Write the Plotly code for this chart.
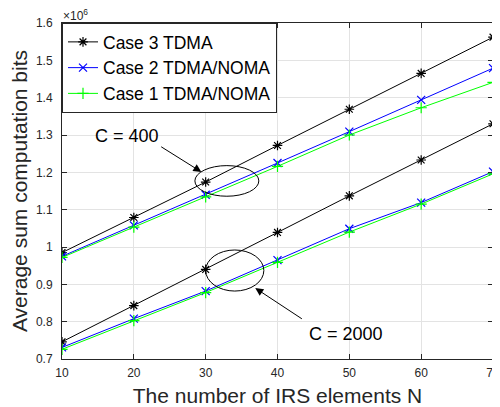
import plotly.graph_objects as go

N = [10, 20, 30, 40, 50, 60, 70]

# C = 400 (units of 1e6 bits)
case3_c400 = [0.985, 1.079, 1.174, 1.272, 1.369, 1.465, 1.562]
case2_c400 = [0.975, 1.058, 1.140, 1.225, 1.309, 1.394, 1.479]
case1_c400 = [0.972, 1.053, 1.134, 1.216, 1.300, 1.373, 1.441]

# C = 2000
case3_c2000 = [0.746, 0.843, 0.940, 1.039, 1.137, 1.233, 1.330]
case2_c2000 = [0.731, 0.808, 0.882, 0.965, 1.049, 1.119, 1.202]
case1_c2000 = [0.726, 0.803, 0.878, 0.959, 1.040, 1.115, 1.196]

series_names = ["Case 3 TDMA", "Case 2 TDMA/NOMA", "Case 1 TDMA/NOMA"]
y_ticks = [0.7, 0.8, 0.9, 1.0, 1.1, 1.2, 1.3, 1.4, 1.5, 1.6]
x_ticks = [10, 20, 30, 40, 50, 60, 70]

styles = [
    ("#000000", "asterisk-open"),
    ("#0000FF", "x-thin-open"),
    ("#00FF00", "cross-thin-open"),
]

fig = go.Figure()
groups = [
    (case3_c400, case3_c2000),
    (case2_c400, case2_c2000),
    (case1_c400, case1_c2000),
]
for (color, sym), name, (a, b) in zip(styles, series_names, groups):
    for k, ys in enumerate((a, b)):
        fig.add_trace(go.Scatter(
            x=N, y=ys, mode="lines+markers", name=name,
            legendgroup=name, showlegend=(k == 0),
            line=dict(color=color, width=1),
            marker=dict(symbol=sym, size=8, color=color,
                        line=dict(color=color, width=1.2)),
        ))

font_family = "Liberation Sans, Arial, sans-serif"
axis_color = "#262626"

# page body has an 8px default margin, so the figure is 8px smaller
fig.update_layout(
    width=492, height=399,
    margin=dict(l=54, r=7, t=15, b=48),
    paper_bgcolor="white", plot_bgcolor="white",
    font=dict(family=font_family, color=axis_color),
    showlegend=True,
    legend=dict(
        x=0, y=1, xanchor="left", yanchor="top",
        bgcolor="white", bordercolor=axis_color, borderwidth=1,
        font=dict(size=17.5, color="#000000"),
        tracegroupgap=0, entrywidth=182, entrywidthmode="pixels",
    ),
    xaxis=dict(
        range=[10, 70], tickvals=x_ticks, automargin=False,
        showgrid=True, gridcolor="#e3e3e3", gridwidth=1,
        showline=True, linecolor=axis_color, linewidth=1, mirror="ticks",
        ticks="inside", ticklen=5, tickcolor=axis_color,
        tickfont=dict(size=12, color=axis_color), ticklabelstandoff=3,
        zeroline=False,
        title=dict(text="The number of IRS elements N",
                   font=dict(size=21, color=axis_color), standoff=8),
    ),
    yaxis=dict(
        range=[0.7, 1.6], tickvals=y_ticks, automargin=False,
        showgrid=True, gridcolor="#e3e3e3", gridwidth=1,
        showline=True, linecolor=axis_color, linewidth=1, mirror="ticks",
        ticks="inside", ticklen=5, tickcolor=axis_color,
        tickfont=dict(size=12, color=axis_color), ticklabelstandoff=6,
        zeroline=False,
        title=dict(text="Average sum computation bits",
                   font=dict(size=21, color=axis_color), standoff=2),
    ),
)

# ellipses
fig.add_shape(type="circle", xref="x", yref="y",
              x0=28.5, x1=37.4, y0=1.136, y1=1.218,
              line=dict(color="#000000", width=1))
fig.add_shape(type="circle", xref="x", yref="y",
              x0=30.0, x1=38.1, y0=0.882, y1=0.992,
              line=dict(color="#000000", width=1))

# arrows
fig.add_annotation(x=29.4, y=1.201, ax=23.6, ay=1.271, xref="x", yref="y",
                   axref="x", ayref="y", showarrow=True, arrowhead=2,
                   arrowsize=1.6, arrowwidth=1, arrowcolor="#000000", text="")
fig.add_annotation(x=36.9, y=0.890, ax=43.6, ay=0.805, xref="x", yref="y",
                   axref="x", ayref="y", showarrow=True, arrowhead=2,
                   arrowsize=1.6, arrowwidth=1, arrowcolor="#000000", text="")

fig.add_annotation(x=19.0, y=1.296, xref="x", yref="y", text="C = 400",
                   showarrow=False, font=dict(size=18, color="#000000"))
fig.add_annotation(x=49.5, y=0.768, xref="x", yref="y", text="C = 2000",
                   showarrow=False, font=dict(size=18, color="#000000"))

# exponent label
fig.add_annotation(x=0, y=1, xref="paper", yref="paper", xanchor="left",
                   yanchor="bottom", text="×10<sup>6</sup>", showarrow=False,
                   font=dict(size=12, color=axis_color), xshift=-1, yshift=-2)

fig.write_html("out.html")
